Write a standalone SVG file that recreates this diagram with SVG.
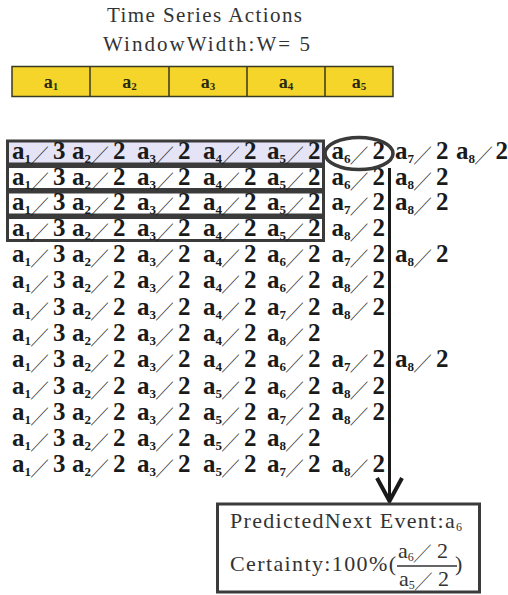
<svg xmlns="http://www.w3.org/2000/svg" width="508" height="595" viewBox="0 0 508 595">
<style>
.ttl{font-family:"Liberation Serif","Times New Roman",serif;font-size:21px;fill:#333}
.bar{fill:#f6d52a;stroke:#3a3a20;stroke-width:1.5}
.bl{font-family:"Liberation Serif","Times New Roman",serif;font-weight:bold;font-size:18px;fill:#2a2a10}
.bs{font-size:11px}
.t{font-family:"Liberation Serif","Times New Roman",serif;font-weight:bold;font-size:25px;fill:#1a1a1a}
.s{font-size:13px}
.sl{font-family:"Noto Sans CJK TC","Noto Sans CJK SC",sans-serif;font-weight:normal;font-size:17px;fill:#1a1a1a}
.box{fill:#fff;stroke:#3b3b3b;stroke-width:3}
.pt{font-family:"Liberation Serif","Times New Roman",serif;font-size:22px;fill:#333}
.ps{font-size:12px}
.psl{font-family:"Noto Sans CJK TC","Noto Sans CJK SC",sans-serif;font-size:17px;fill:#333}
.con{fill:none;stroke:#1a1a1a}
</style>
<g id="title">
<text class="ttl" x="107" y="22" textLength="195" lengthAdjust="spacing">Time Series Actions</text>
<text class="ttl" x="103" y="51" textLength="207" lengthAdjust="spacing">WindowWidth:W= 5</text>
</g>
<g id="series-bar">
<rect class="bar" x="12" y="66.5" width="381" height="30"/>
<path d="M90 66.5V96.5M169 66.5V96.5M247 66.5V96.5M325 66.5V96.5" stroke="#3a3a20" stroke-width="1.5"/>
<text class="bl" x="51" y="88" text-anchor="middle">a<tspan class="bs" dy="2">1</tspan></text>
<text class="bl" x="129.5" y="88" text-anchor="middle">a<tspan class="bs" dy="2">2</tspan></text>
<text class="bl" x="208" y="88" text-anchor="middle">a<tspan class="bs" dy="2">3</tspan></text>
<text class="bl" x="286" y="88" text-anchor="middle">a<tspan class="bs" dy="2">4</tspan></text>
<text class="bl" x="359" y="88" text-anchor="middle">a<tspan class="bs" dy="2">5</tspan></text>
</g>
<g id="windows">
<rect class="box" x="7.5" y="141" width="316" height="23" style="fill:#e4e4f6"/>
<rect class="box" x="7.5" y="166.5" width="316" height="23"/>
<rect class="box" x="7.5" y="192" width="316" height="23"/>
<rect class="box" x="7.5" y="217.5" width="316" height="23"/>
</g>
<g id="rows" class="t">
<text id="row1" y="159"><tspan x="12">a</tspan><tspan class="s" dy="4">1</tspan><tspan class="sl" dy="-1">╱</tspan><tspan x="53" dy="-3">3</tspan><tspan x="72">a</tspan><tspan class="s" dy="4">2</tspan><tspan class="sl" dy="-1">╱</tspan><tspan x="113" dy="-3">2</tspan><tspan x="137">a</tspan><tspan class="s" dy="4">3</tspan><tspan class="sl" dy="-1">╱</tspan><tspan x="178" dy="-3">2</tspan><tspan x="203">a</tspan><tspan class="s" dy="4">4</tspan><tspan class="sl" dy="-1">╱</tspan><tspan x="244" dy="-3">2</tspan><tspan x="267">a</tspan><tspan class="s" dy="4">5</tspan><tspan class="sl" dy="-1">╱</tspan><tspan x="308" dy="-3">2</tspan><tspan x="331.5">a</tspan><tspan class="s" dy="4">6</tspan><tspan class="sl" dy="-1">╱</tspan><tspan x="372.5" dy="-3">2</tspan><tspan x="395">a</tspan><tspan class="s" dy="4">7</tspan><tspan class="sl" dy="-1">╱</tspan><tspan x="436" dy="-3">2</tspan><tspan x="456">a</tspan><tspan class="s" dy="4">8</tspan><tspan class="sl" dy="-1">╱</tspan><tspan x="495.5" dy="-3">2</tspan></text>
<text id="row2" y="184.5"><tspan x="12">a</tspan><tspan class="s" dy="4">1</tspan><tspan class="sl" dy="-1">╱</tspan><tspan x="53" dy="-3">3</tspan><tspan x="72">a</tspan><tspan class="s" dy="4">2</tspan><tspan class="sl" dy="-1">╱</tspan><tspan x="113" dy="-3">2</tspan><tspan x="137">a</tspan><tspan class="s" dy="4">3</tspan><tspan class="sl" dy="-1">╱</tspan><tspan x="178" dy="-3">2</tspan><tspan x="203">a</tspan><tspan class="s" dy="4">4</tspan><tspan class="sl" dy="-1">╱</tspan><tspan x="244" dy="-3">2</tspan><tspan x="267">a</tspan><tspan class="s" dy="4">5</tspan><tspan class="sl" dy="-1">╱</tspan><tspan x="308" dy="-3">2</tspan><tspan x="331.5">a</tspan><tspan class="s" dy="4">6</tspan><tspan class="sl" dy="-1">╱</tspan><tspan x="372.5" dy="-3">2</tspan><tspan x="395">a</tspan><tspan class="s" dy="4">8</tspan><tspan class="sl" dy="-1">╱</tspan><tspan x="436" dy="-3">2</tspan></text>
<text id="row3" y="210"><tspan x="12">a</tspan><tspan class="s" dy="4">1</tspan><tspan class="sl" dy="-1">╱</tspan><tspan x="53" dy="-3">3</tspan><tspan x="72">a</tspan><tspan class="s" dy="4">2</tspan><tspan class="sl" dy="-1">╱</tspan><tspan x="113" dy="-3">2</tspan><tspan x="137">a</tspan><tspan class="s" dy="4">3</tspan><tspan class="sl" dy="-1">╱</tspan><tspan x="178" dy="-3">2</tspan><tspan x="203">a</tspan><tspan class="s" dy="4">4</tspan><tspan class="sl" dy="-1">╱</tspan><tspan x="244" dy="-3">2</tspan><tspan x="267">a</tspan><tspan class="s" dy="4">5</tspan><tspan class="sl" dy="-1">╱</tspan><tspan x="308" dy="-3">2</tspan><tspan x="331.5">a</tspan><tspan class="s" dy="4">7</tspan><tspan class="sl" dy="-1">╱</tspan><tspan x="372.5" dy="-3">2</tspan><tspan x="395">a</tspan><tspan class="s" dy="4">8</tspan><tspan class="sl" dy="-1">╱</tspan><tspan x="436" dy="-3">2</tspan></text>
<text id="row4" y="235.5"><tspan x="12">a</tspan><tspan class="s" dy="4">1</tspan><tspan class="sl" dy="-1">╱</tspan><tspan x="53" dy="-3">3</tspan><tspan x="72">a</tspan><tspan class="s" dy="4">2</tspan><tspan class="sl" dy="-1">╱</tspan><tspan x="113" dy="-3">2</tspan><tspan x="137">a</tspan><tspan class="s" dy="4">3</tspan><tspan class="sl" dy="-1">╱</tspan><tspan x="178" dy="-3">2</tspan><tspan x="203">a</tspan><tspan class="s" dy="4">4</tspan><tspan class="sl" dy="-1">╱</tspan><tspan x="244" dy="-3">2</tspan><tspan x="267">a</tspan><tspan class="s" dy="4">5</tspan><tspan class="sl" dy="-1">╱</tspan><tspan x="308" dy="-3">2</tspan><tspan x="331.5">a</tspan><tspan class="s" dy="4">8</tspan><tspan class="sl" dy="-1">╱</tspan><tspan x="372.5" dy="-3">2</tspan></text>
<text id="row5" y="262"><tspan x="12">a</tspan><tspan class="s" dy="4">1</tspan><tspan class="sl" dy="-1">╱</tspan><tspan x="53" dy="-3">3</tspan><tspan x="72">a</tspan><tspan class="s" dy="4">2</tspan><tspan class="sl" dy="-1">╱</tspan><tspan x="113" dy="-3">2</tspan><tspan x="137">a</tspan><tspan class="s" dy="4">3</tspan><tspan class="sl" dy="-1">╱</tspan><tspan x="178" dy="-3">2</tspan><tspan x="203">a</tspan><tspan class="s" dy="4">4</tspan><tspan class="sl" dy="-1">╱</tspan><tspan x="244" dy="-3">2</tspan><tspan x="267">a</tspan><tspan class="s" dy="4">6</tspan><tspan class="sl" dy="-1">╱</tspan><tspan x="308" dy="-3">2</tspan><tspan x="331.5">a</tspan><tspan class="s" dy="4">7</tspan><tspan class="sl" dy="-1">╱</tspan><tspan x="372.5" dy="-3">2</tspan><tspan x="395">a</tspan><tspan class="s" dy="4">8</tspan><tspan class="sl" dy="-1">╱</tspan><tspan x="436" dy="-3">2</tspan></text>
<text id="row6" y="288"><tspan x="12">a</tspan><tspan class="s" dy="4">1</tspan><tspan class="sl" dy="-1">╱</tspan><tspan x="53" dy="-3">3</tspan><tspan x="72">a</tspan><tspan class="s" dy="4">2</tspan><tspan class="sl" dy="-1">╱</tspan><tspan x="113" dy="-3">2</tspan><tspan x="137">a</tspan><tspan class="s" dy="4">3</tspan><tspan class="sl" dy="-1">╱</tspan><tspan x="178" dy="-3">2</tspan><tspan x="203">a</tspan><tspan class="s" dy="4">4</tspan><tspan class="sl" dy="-1">╱</tspan><tspan x="244" dy="-3">2</tspan><tspan x="267">a</tspan><tspan class="s" dy="4">6</tspan><tspan class="sl" dy="-1">╱</tspan><tspan x="308" dy="-3">2</tspan><tspan x="331.5">a</tspan><tspan class="s" dy="4">8</tspan><tspan class="sl" dy="-1">╱</tspan><tspan x="372.5" dy="-3">2</tspan></text>
<text id="row7" y="315"><tspan x="12">a</tspan><tspan class="s" dy="4">1</tspan><tspan class="sl" dy="-1">╱</tspan><tspan x="53" dy="-3">3</tspan><tspan x="72">a</tspan><tspan class="s" dy="4">2</tspan><tspan class="sl" dy="-1">╱</tspan><tspan x="113" dy="-3">2</tspan><tspan x="137">a</tspan><tspan class="s" dy="4">3</tspan><tspan class="sl" dy="-1">╱</tspan><tspan x="178" dy="-3">2</tspan><tspan x="203">a</tspan><tspan class="s" dy="4">4</tspan><tspan class="sl" dy="-1">╱</tspan><tspan x="244" dy="-3">2</tspan><tspan x="267">a</tspan><tspan class="s" dy="4">7</tspan><tspan class="sl" dy="-1">╱</tspan><tspan x="308" dy="-3">2</tspan><tspan x="331.5">a</tspan><tspan class="s" dy="4">8</tspan><tspan class="sl" dy="-1">╱</tspan><tspan x="372.5" dy="-3">2</tspan></text>
<text id="row8" y="341"><tspan x="12">a</tspan><tspan class="s" dy="4">1</tspan><tspan class="sl" dy="-1">╱</tspan><tspan x="53" dy="-3">3</tspan><tspan x="72">a</tspan><tspan class="s" dy="4">2</tspan><tspan class="sl" dy="-1">╱</tspan><tspan x="113" dy="-3">2</tspan><tspan x="137">a</tspan><tspan class="s" dy="4">3</tspan><tspan class="sl" dy="-1">╱</tspan><tspan x="178" dy="-3">2</tspan><tspan x="203">a</tspan><tspan class="s" dy="4">4</tspan><tspan class="sl" dy="-1">╱</tspan><tspan x="244" dy="-3">2</tspan><tspan x="267">a</tspan><tspan class="s" dy="4">8</tspan><tspan class="sl" dy="-1">╱</tspan><tspan x="308" dy="-3">2</tspan></text>
<text id="row9" y="367"><tspan x="12">a</tspan><tspan class="s" dy="4">1</tspan><tspan class="sl" dy="-1">╱</tspan><tspan x="53" dy="-3">3</tspan><tspan x="72">a</tspan><tspan class="s" dy="4">2</tspan><tspan class="sl" dy="-1">╱</tspan><tspan x="113" dy="-3">2</tspan><tspan x="137">a</tspan><tspan class="s" dy="4">3</tspan><tspan class="sl" dy="-1">╱</tspan><tspan x="178" dy="-3">2</tspan><tspan x="203">a</tspan><tspan class="s" dy="4">4</tspan><tspan class="sl" dy="-1">╱</tspan><tspan x="244" dy="-3">2</tspan><tspan x="267">a</tspan><tspan class="s" dy="4">6</tspan><tspan class="sl" dy="-1">╱</tspan><tspan x="308" dy="-3">2</tspan><tspan x="331.5">a</tspan><tspan class="s" dy="4">7</tspan><tspan class="sl" dy="-1">╱</tspan><tspan x="372.5" dy="-3">2</tspan><tspan x="395">a</tspan><tspan class="s" dy="4">8</tspan><tspan class="sl" dy="-1">╱</tspan><tspan x="436" dy="-3">2</tspan></text>
<text id="row10" y="393.5"><tspan x="12">a</tspan><tspan class="s" dy="4">1</tspan><tspan class="sl" dy="-1">╱</tspan><tspan x="53" dy="-3">3</tspan><tspan x="72">a</tspan><tspan class="s" dy="4">2</tspan><tspan class="sl" dy="-1">╱</tspan><tspan x="113" dy="-3">2</tspan><tspan x="137">a</tspan><tspan class="s" dy="4">3</tspan><tspan class="sl" dy="-1">╱</tspan><tspan x="178" dy="-3">2</tspan><tspan x="203">a</tspan><tspan class="s" dy="4">5</tspan><tspan class="sl" dy="-1">╱</tspan><tspan x="244" dy="-3">2</tspan><tspan x="267">a</tspan><tspan class="s" dy="4">6</tspan><tspan class="sl" dy="-1">╱</tspan><tspan x="308" dy="-3">2</tspan><tspan x="331.5">a</tspan><tspan class="s" dy="4">8</tspan><tspan class="sl" dy="-1">╱</tspan><tspan x="372.5" dy="-3">2</tspan></text>
<text id="row11" y="420"><tspan x="12">a</tspan><tspan class="s" dy="4">1</tspan><tspan class="sl" dy="-1">╱</tspan><tspan x="53" dy="-3">3</tspan><tspan x="72">a</tspan><tspan class="s" dy="4">2</tspan><tspan class="sl" dy="-1">╱</tspan><tspan x="113" dy="-3">2</tspan><tspan x="137">a</tspan><tspan class="s" dy="4">3</tspan><tspan class="sl" dy="-1">╱</tspan><tspan x="178" dy="-3">2</tspan><tspan x="203">a</tspan><tspan class="s" dy="4">5</tspan><tspan class="sl" dy="-1">╱</tspan><tspan x="244" dy="-3">2</tspan><tspan x="267">a</tspan><tspan class="s" dy="4">7</tspan><tspan class="sl" dy="-1">╱</tspan><tspan x="308" dy="-3">2</tspan><tspan x="331.5">a</tspan><tspan class="s" dy="4">8</tspan><tspan class="sl" dy="-1">╱</tspan><tspan x="372.5" dy="-3">2</tspan></text>
<text id="row12" y="446"><tspan x="12">a</tspan><tspan class="s" dy="4">1</tspan><tspan class="sl" dy="-1">╱</tspan><tspan x="53" dy="-3">3</tspan><tspan x="72">a</tspan><tspan class="s" dy="4">2</tspan><tspan class="sl" dy="-1">╱</tspan><tspan x="113" dy="-3">2</tspan><tspan x="137">a</tspan><tspan class="s" dy="4">3</tspan><tspan class="sl" dy="-1">╱</tspan><tspan x="178" dy="-3">2</tspan><tspan x="203">a</tspan><tspan class="s" dy="4">5</tspan><tspan class="sl" dy="-1">╱</tspan><tspan x="244" dy="-3">2</tspan><tspan x="267">a</tspan><tspan class="s" dy="4">8</tspan><tspan class="sl" dy="-1">╱</tspan><tspan x="308" dy="-3">2</tspan></text>
<text id="row13" y="472"><tspan x="12">a</tspan><tspan class="s" dy="4">1</tspan><tspan class="sl" dy="-1">╱</tspan><tspan x="53" dy="-3">3</tspan><tspan x="72">a</tspan><tspan class="s" dy="4">2</tspan><tspan class="sl" dy="-1">╱</tspan><tspan x="113" dy="-3">2</tspan><tspan x="137">a</tspan><tspan class="s" dy="4">3</tspan><tspan class="sl" dy="-1">╱</tspan><tspan x="178" dy="-3">2</tspan><tspan x="203">a</tspan><tspan class="s" dy="4">5</tspan><tspan class="sl" dy="-1">╱</tspan><tspan x="244" dy="-3">2</tspan><tspan x="267">a</tspan><tspan class="s" dy="4">7</tspan><tspan class="sl" dy="-1">╱</tspan><tspan x="308" dy="-3">2</tspan><tspan x="331.5">a</tspan><tspan class="s" dy="4">8</tspan><tspan class="sl" dy="-1">╱</tspan><tspan x="372.5" dy="-3">2</tspan></text>
</g>
<g id="highlight">
<ellipse cx="359" cy="153.5" rx="34" ry="16" fill="none" stroke="#3a3a3a" stroke-width="3.5"/>
</g>
<g id="connectors">
<path class="con" d="M389.5 168V500" stroke-width="3"/>
<polyline class="con" points="377,478 389.5,501 402,478" stroke-width="4"/>
</g>
<g id="prediction">
<rect x="217.5" y="504" width="262" height="88" fill="#fff" stroke="#3b3b3b" stroke-width="3"/>
<text class="pt" x="230" y="528" textLength="232" lengthAdjust="spacing">PredictedNext Event:a<tspan class="ps" dy="3">6</tspan></text>
<text class="pt" x="230" y="571" textLength="166" lengthAdjust="spacing">Certainty:100%(</text>
<text class="pt" x="398" y="558">a<tspan class="ps" dy="3">6</tspan><tspan class="psl" dy="-1">╱</tspan><tspan x="437" dy="-2">2</tspan></text>
<path d="M397 566H457" stroke="#333" stroke-width="1.5"/>
<text class="pt" x="399" y="586">a<tspan class="ps" dy="3">5</tspan><tspan class="psl" dy="-1">╱</tspan><tspan x="438" dy="-2">2</tspan></text>
<text class="pt" x="455" y="571">)</text>
</g>
</svg>
